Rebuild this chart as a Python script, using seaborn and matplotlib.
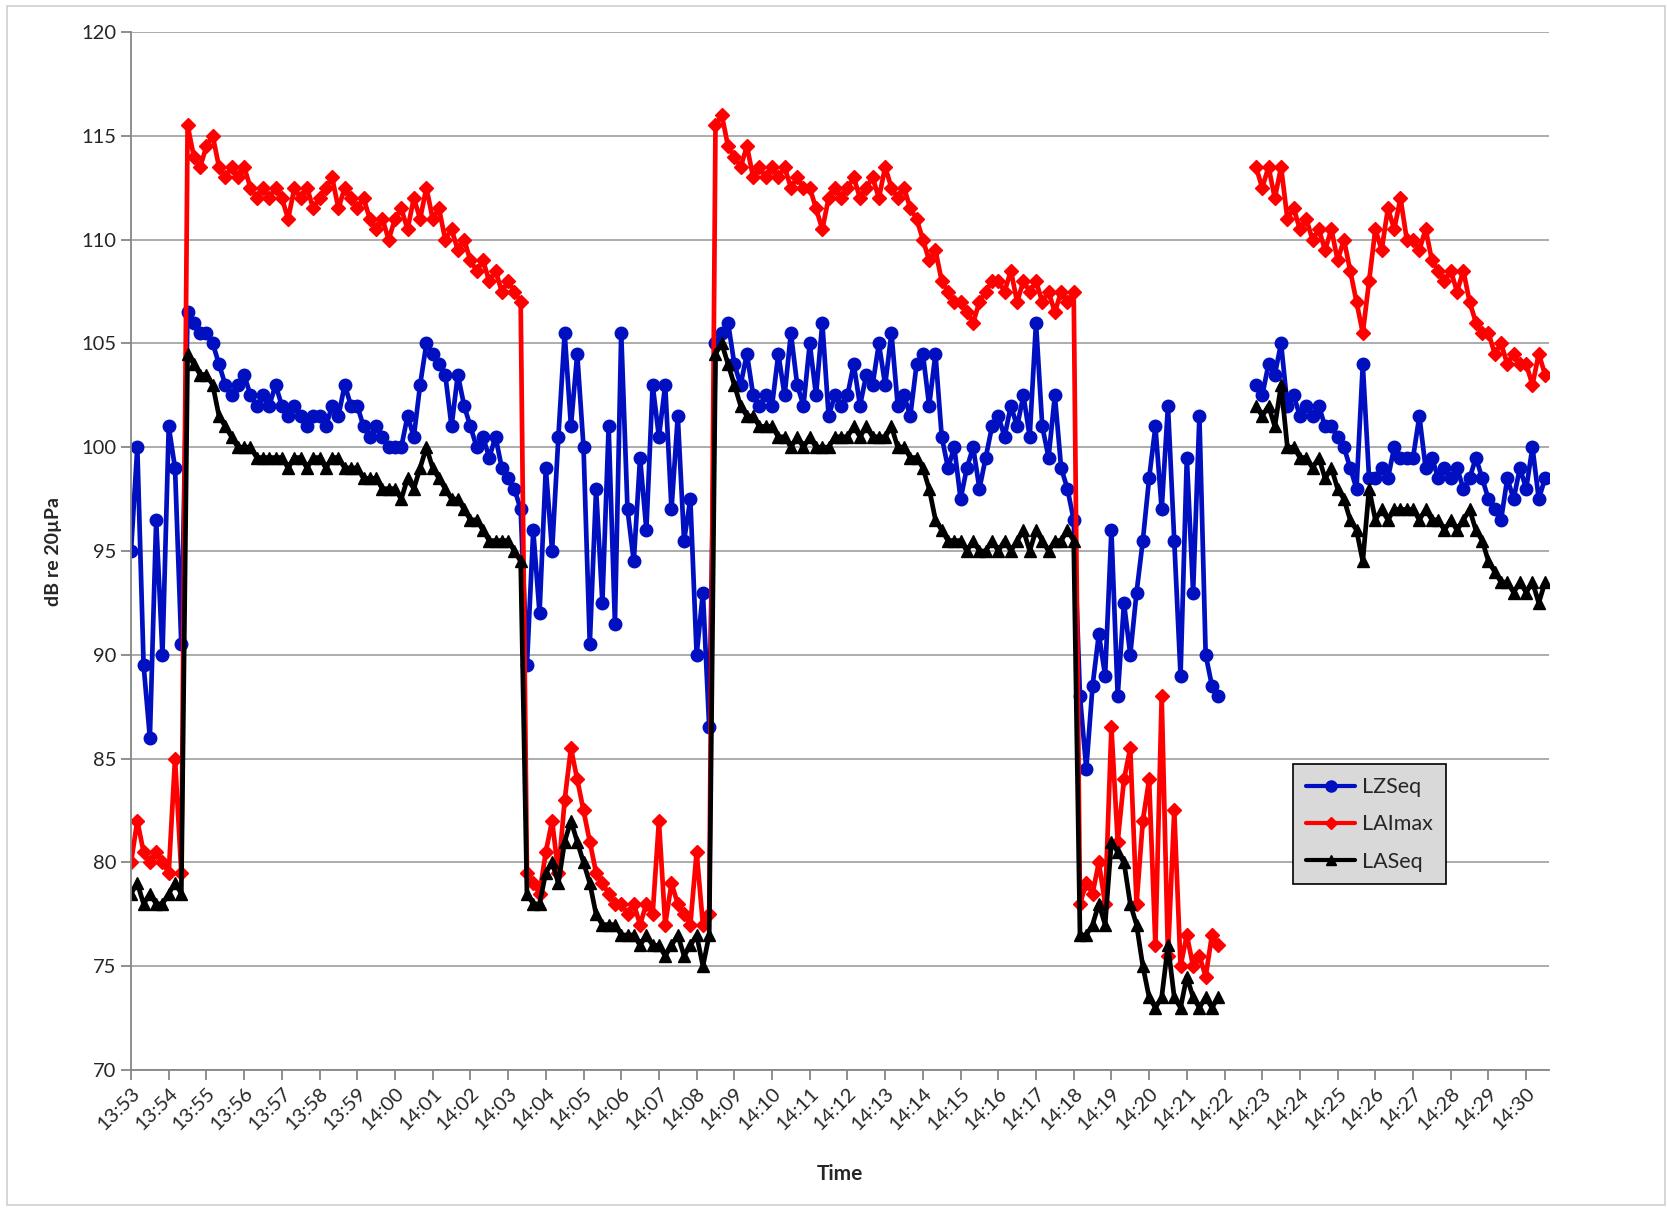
import pandas as pd
import matplotlib
matplotlib.use('Agg')
import matplotlib.pyplot as plt
import matplotlib.dates as mdates
from matplotlib.lines import Line2D
from matplotlib.patches import Rectangle
import seaborn as sns

# 소음 측정 기록 (10초 간격), 13:53:00 ~ 14:21:50 / 14:22:50 ~ 14:30:30
run1_start = '2000-01-01 13:53:00'
run2_start = '2000-01-01 14:22:50'

lzs_1 = [95, 100, 89.5, 86, 96.5, 90, 101, 99, 90.5,
         106.5, 106, 105.5,
         105.5, 105, 104, 103, 102.5, 103,
         103.5, 102.5, 102, 102.5, 102, 103,
         102, 101.5, 102, 101.5, 101, 101.5,
         101.5, 101, 102, 101.5, 103, 102,
         102, 101, 100.5, 101, 100.5, 100,
         100, 100, 101.5, 100.5, 103, 105,
         104.5, 104, 103.5, 101, 103.5, 102,
         101, 100, 100.5, 99.5, 100.5, 99,
         98.5, 98, 97,
         89.5, 96, 92,
         99, 95, 100.5, 105.5, 101, 104.5,
         100, 90.5, 98, 92.5, 101, 91.5,
         105.5, 97, 94.5, 99.5, 96, 103,
         100.5, 103, 97, 101.5, 95.5, 97.5,
         90, 93, 86.5,
         105, 105.5, 106,
         104, 103, 104.5, 102.5, 102, 102.5,
         102, 104.5, 102.5, 105.5, 103, 102,
         105, 102.5, 106, 101.5, 102.5, 102,
         102.5, 104, 102, 103.5, 103, 105,
         103, 105.5, 102, 102.5, 101.5, 104,
         104.5, 102, 104.5, 100.5, 99, 100,
         97.5, 99, 100, 98, 99.5, 101,
         101.5, 100.5, 102, 101, 102.5, 100.5,
         106, 101, 99.5, 102.5, 99, 98,
         96.5,
         88, 84.5, 88.5, 91, 89,
         96, 88, 92.5, 90, 93, 95.5,
         98.5, 101, 97, 102, 95.5, 89,
         99.5, 93, 101.5, 90, 88.5, 88]

lai_1 = [80, 82, 80.5, 80, 80.5, 80, 79.5, 85, 79.5,
         115.5, 114, 113.5,
         114.5, 115, 113.5, 113, 113.5, 113,
         113.5, 112.5, 112, 112.5, 112, 112.5,
         112, 111, 112.5, 112, 112.5, 111.5,
         112, 112.5, 113, 111.5, 112.5, 112,
         111.5, 112, 111, 110.5, 111, 110,
         111, 111.5, 110.5, 112, 111, 112.5,
         111, 111.5, 110, 110.5, 109.5, 110,
         109, 108.5, 109, 108, 108.5, 107.5,
         108, 107.5, 107,
         79.5, 79, 78.5,
         80.5, 82, 79.5, 83, 85.5, 84,
         82.5, 81, 79.5, 79, 78.5, 78,
         78, 77.5, 78, 77, 78, 77.5,
         82, 77, 79, 78, 77.5, 77,
         80.5, 77, 77.5,
         115.5, 116, 114.5,
         114, 113.5, 114.5, 113, 113.5, 113,
         113.5, 113, 113.5, 112.5, 113, 112.5,
         112.5, 111.5, 110.5, 112, 112.5, 112,
         112.5, 113, 112, 112.5, 113, 112,
         113.5, 112.5, 112, 112.5, 111.5, 111,
         110, 109, 109.5, 108, 107.5, 107,
         107, 106.5, 106, 107, 107.5, 108,
         108, 107.5, 108.5, 107, 108, 107.5,
         108, 107, 107.5, 106.5, 107.5, 107,
         107.5,
         78, 79, 78.5, 80, 78,
         86.5, 81, 84, 85.5, 78, 82,
         84, 76, 88, 75.5, 82.5, 75,
         76.5, 75, 75.5, 74.5, 76.5, 76]

las_1 = [78.5, 79, 78, 78.5, 78, 78, 78.5, 79, 78.5,
         104.5, 104, 103.5,
         103.5, 103, 101.5, 101, 100.5, 100,
         100, 100, 99.5, 99.5, 99.5, 99.5,
         99.5, 99, 99.5, 99.5, 99, 99.5,
         99.5, 99, 99.5, 99.5, 99, 99,
         99, 98.5, 98.5, 98.5, 98, 98,
         98, 97.5, 98.5, 98, 99, 100,
         99, 98.5, 98, 97.5, 97.5, 97,
         96.5, 96.5, 96, 95.5, 95.5, 95.5,
         95.5, 95, 94.5,
         78.5, 78, 78,
         79.5, 80, 79, 81, 82, 81,
         80, 79, 77.5, 77, 77, 77,
         76.5, 76.5, 76.5, 76, 76.5, 76,
         76, 75.5, 76, 76.5, 75.5, 76,
         76.5, 75, 76.5,
         104.5, 105, 104,
         103, 102, 101.5, 101.5, 101, 101,
         101, 100.5, 100.5, 100, 100.5, 100,
         100.5, 100, 100, 100, 100.5, 100.5,
         100.5, 101, 100.5, 101, 100.5, 100.5,
         100.5, 101, 100, 100, 99.5, 99.5,
         99, 98, 96.5, 96, 95.5, 95.5,
         95.5, 95, 95.5, 95, 95, 95.5,
         95, 95.5, 95, 95.5, 96, 95,
         96, 95.5, 95, 95.5, 95.5, 96,
         95.5,
         76.5, 76.5, 77, 78, 77,
         81, 80.5, 80, 78, 77, 75,
         73.5, 73, 73.5, 76, 73.5, 73,
         74.5, 73.5, 73, 73.5, 73, 73.5]

lzs_2 = [103,
         102.5, 104, 103.5, 105, 102, 102.5,
         101.5, 102, 101.5, 102, 101, 101,
         100.5, 100, 99, 98, 104, 98.5,
         98.5, 99, 98.5, 100, 99.5, 99.5,
         99.5, 101.5, 99, 99.5, 98.5, 99,
         98.5, 99, 98, 98.5, 99.5, 98.5,
         97.5, 97, 96.5, 98.5, 97.5, 99,
         98, 100, 97.5, 98.5]

lai_2 = [113.5,
         112.5, 113.5, 112, 113.5, 111, 111.5,
         110.5, 111, 110, 110.5, 109.5, 110.5,
         109, 110, 108.5, 107, 105.5, 108,
         110.5, 109.5, 111.5, 110.5, 112, 110,
         110, 109.5, 110.5, 109, 108.5, 108,
         108.5, 107.5, 108.5, 107, 106, 105.5,
         105.5, 104.5, 105, 104, 104.5, 104,
         104, 103, 104.5, 103.5]

las_2 = [102,
         101.5, 102, 101, 103, 100, 100,
         99.5, 99.5, 99, 99.5, 98.5, 99,
         98, 97.5, 96.5, 96, 94.5, 98,
         96.5, 97, 96.5, 97, 97, 97,
         97, 96.5, 97, 96.5, 96.5, 96,
         96.5, 96, 96.5, 97, 96, 95.5,
         94.5, 94, 93.5, 93.5, 93, 93.5,
         93, 93.5, 92.5, 93.5]

series_names = ['LZSeq', 'LAImax', 'LASeq']
colors = {'LZSeq': '#0010C0', 'LAImax': '#FF0000', 'LASeq': '#000000'}
markers = {'LZSeq': 'o', 'LAImax': 'D', 'LASeq': '^'}
msizes = {'LZSeq': 9, 'LAImax': 7, 'LASeq': 8.5}

# 긴 형식 데이터프레임 만들기
t1 = pd.date_range(run1_start, periods=len(lzs_1), freq='10s')
t2 = pd.date_range(run2_start, periods=len(lzs_2), freq='10s')
frames = []
for run, t, vals in [(1, t1, [lzs_1, lai_1, las_1]), (2, t2, [lzs_2, lai_2, las_2])]:
    for name, v in zip(series_names, vals):
        frames.append(pd.DataFrame({'Time': t, 'dB': v, 'series': name, 'run': run}))
df = pd.concat(frames, ignore_index=True)

sns.set_theme(style='white')
plt.rcParams['font.family'] = ['Lato', 'DejaVu Sans']

fig = plt.figure(figsize=(16.67, 12.09), dpi=100)
ax = fig.add_axes([0.0786, 0.115, 0.8505, 0.8585])

for name in series_names:
    sns.lineplot(data=df[df['series'] == name], x='Time', y='dB', units='run',
                 estimator=None, color=colors[name], marker=markers[name],
                 markersize=msizes[name], markeredgewidth=1.0,
                 markeredgecolor=colors[name], linewidth=3.4, ax=ax, legend=False)

ax.set_ylim(70, 120)
ax.set_yticks(range(70, 121, 5))
ax.set_xlim(pd.Timestamp('2000-01-01 13:53:00'), pd.Timestamp('2000-01-01 14:30:36'))
ax.xaxis.set_major_locator(mdates.MinuteLocator())
ax.xaxis.set_major_formatter(mdates.DateFormatter('%H:%M'))

ax.yaxis.grid(True, color='#a6a6a6', linewidth=1.3)
ax.xaxis.grid(False)
ax.set_axisbelow(True)
for s in ['top', 'right']:
    ax.spines[s].set_visible(False)
for s in ['left', 'bottom']:
    ax.spines[s].set_color('#868686')
    ax.spines[s].set_linewidth(1.3)

ax.tick_params(axis='both', which='major', direction='out', length=7, width=1.3,
               color='#868686', labelsize=14.5, labelcolor='#262626')
ax.tick_params(axis='x', bottom=True)
ax.tick_params(axis='y', left=True)
plt.setp(ax.get_xticklabels(), rotation=45, ha='right', rotation_mode='anchor')

ax.set_xlabel('Time', fontsize=15, fontweight='bold', labelpad=22)
ax.set_ylabel('dB re 20µPa', fontsize=14, fontweight='bold', labelpad=14)

handles = [Line2D([], [], color=colors[n], marker=markers[n], markersize=msizes[n] - 1,
                  markeredgecolor=colors[n], linewidth=3) for n in series_names]
leg = ax.legend(handles, series_names, loc='upper left', bbox_to_anchor=(0.812, 0.305),
                fontsize=15.5, frameon=True, fancybox=False, handlelength=2.3,
                handletextpad=0.3, labelspacing=0.8, borderpad=0.6)
leg.get_frame().set_facecolor('#d9d9d9')
leg.get_frame().set_edgecolor('#000000')
leg.get_frame().set_linewidth(1.2)
leg.get_frame().set_alpha(1)

# 바깥 테두리
fig.patches.append(Rectangle((0.004, 0.003), 0.995, 0.992, transform=fig.transFigure,
                             fill=False, edgecolor='#d0d0d0', linewidth=1.2))

fig.savefig('out.png', dpi=100)
